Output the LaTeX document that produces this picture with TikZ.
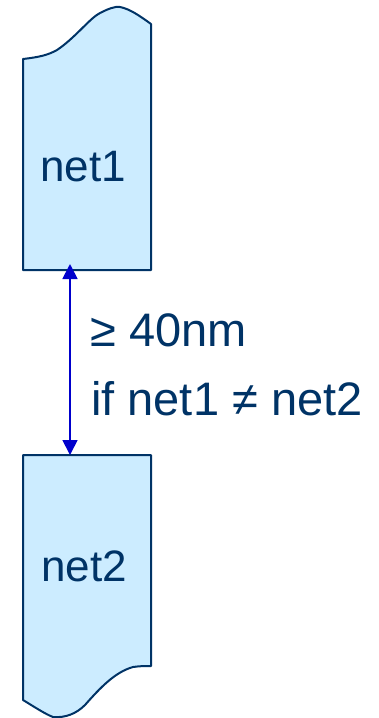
\documentclass[tikz,border=0pt]{standalone}
\usepackage{fontspec}
\setmainfont{Liberation Sans}
\definecolor{navy}{HTML}{003366}
\definecolor{lightfill}{HTML}{CCECFF}
\definecolor{arrowblue}{HTML}{0000CC}
\usetikzlibrary{arrows.meta}
\begin{document}
\begin{tikzpicture}[x=1pt,y=-1pt,
  netshape/.style={draw=navy,fill=lightfill,line width=2pt,line join=round},
  lbl/.style={text=navy,font=\fontsize{44}{48}\selectfont,inner sep=0pt,anchor=base west},
  cond/.style={text=navy,font=\fontsize{47}{52}\selectfont,inner sep=0pt,anchor=base west},
  dim/.style={draw=arrowblue,line width=1.8pt,{Triangle[length=15pt,width=15pt]}-{Triangle[length=15pt,width=15pt]}}]
\useasboundingbox (0,0) rectangle (378,718);
% top shape
\draw[netshape] (23,270) -- (23,59) .. controls (40,57) and (48,55) .. (57,50)
  .. controls (75,38) and (90,18) .. (100,13) .. controls (108,9) and (115,6) .. (120,7)
  .. controls (130,9) and (140,16) .. (151,24) -- (151,270) -- cycle;
\coordinate (t) at (70,264);
% bottom shape
\draw[netshape] (23,455) -- (23,700) .. controls (33,706) and (45,714) .. (53,717)
  .. controls (65,718) and (76,714) .. (85,705) .. controls (100,688) and (115,672) .. (133,667)
  .. controls (140,666) and (145,666) .. (151,666) -- (151,455) -- cycle;
\coordinate (b) at (70,455);
\node[lbl] (n1) at (40,181) {net1};
\node[lbl] (n2) at (41,581) {net2};
\draw[dim] (t) -- (b);
\node[cond] (c1) at (90,346) {≥ 40nm};
\node[cond] (c2) at (91,415) {if net1 ≠ net2};
\end{tikzpicture}
\end{document}
